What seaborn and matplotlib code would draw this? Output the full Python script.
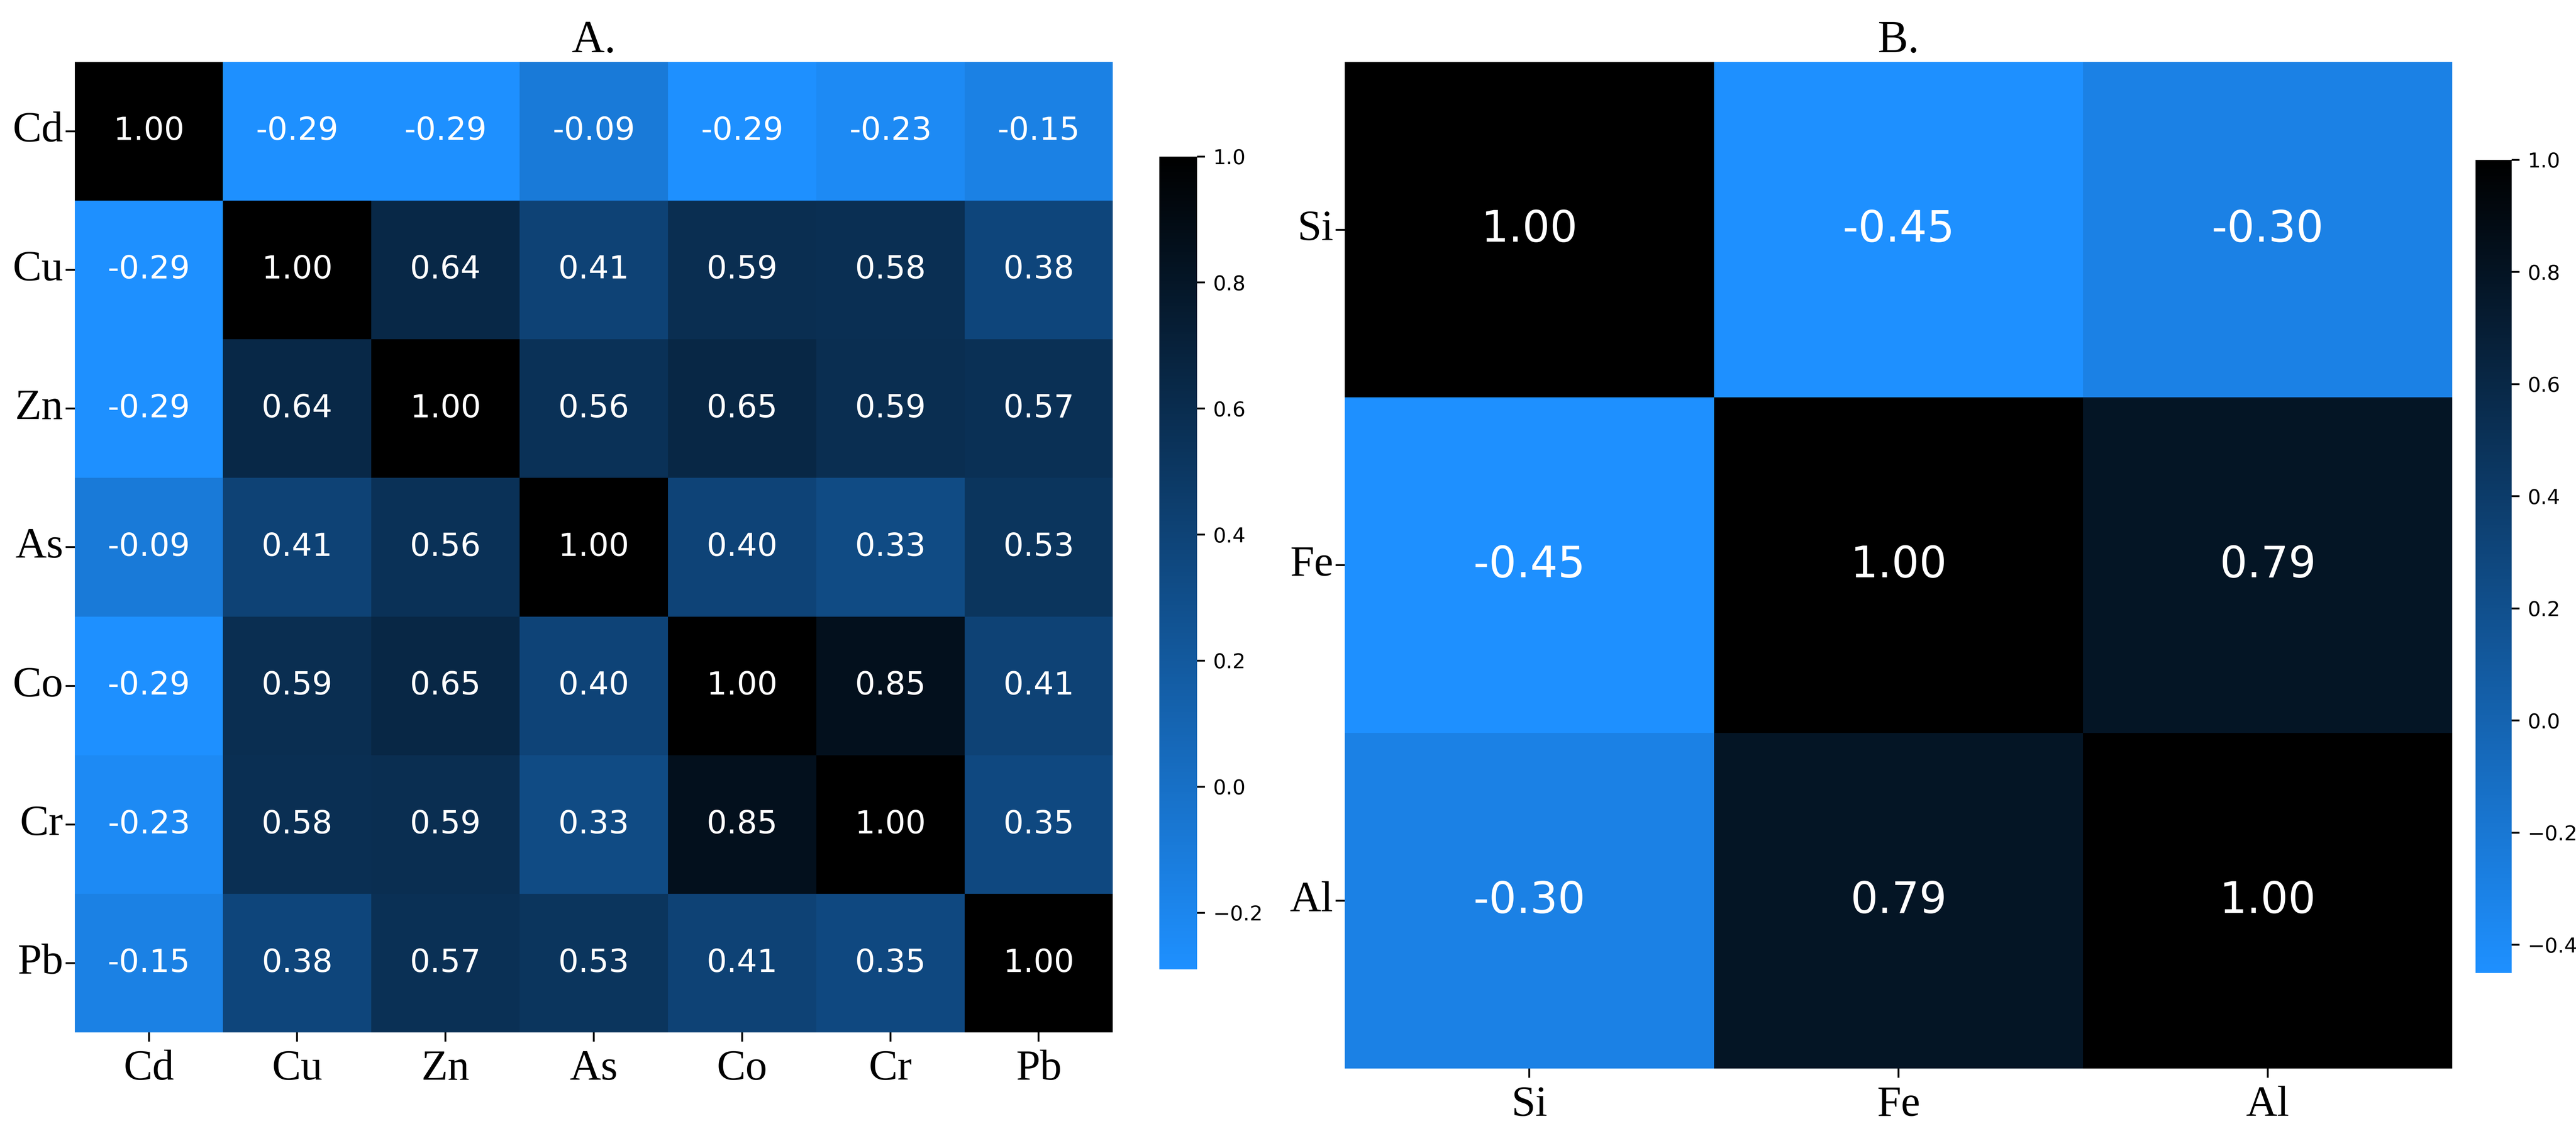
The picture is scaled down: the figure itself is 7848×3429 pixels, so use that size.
import numpy as np
import pandas as pd
import matplotlib
matplotlib.use("Agg")
import matplotlib.pyplot as plt
import seaborn as sns
from matplotlib.colors import LinearSegmentedColormap

labels_a = ["Cd", "Cu", "Zn", "As", "Co", "Cr", "Pb"]
corr_a = [
    [1.00, -0.29, -0.29, -0.09, -0.29, -0.23, -0.15],
    [-0.29, 1.00, 0.64, 0.41, 0.59, 0.58, 0.38],
    [-0.29, 0.64, 1.00, 0.56, 0.65, 0.59, 0.57],
    [-0.09, 0.41, 0.56, 1.00, 0.40, 0.33, 0.53],
    [-0.29, 0.59, 0.65, 0.40, 1.00, 0.85, 0.41],
    [-0.23, 0.58, 0.59, 0.33, 0.85, 1.00, 0.35],
    [-0.15, 0.38, 0.57, 0.53, 0.41, 0.35, 1.00],
]
labels_b = ["Si", "Fe", "Al"]
corr_b = [
    [1.00, -0.45, -0.30],
    [-0.45, 1.00, 0.79],
    [-0.30, 0.79, 1.00],
]

cmap = LinearSegmentedColormap.from_list("bk", ["#1E90FF", "#000000"])
fig = plt.figure(figsize=(15.696, 6.858), dpi=500)

ax1 = fig.add_axes([0.029, 0.083, 0.403, 0.862])
cax1 = fig.add_axes([0.450, 0.139, 0.0147, 0.722])
ax2 = fig.add_axes([0.522, 0.051, 0.430, 0.894])
cax2 = fig.add_axes([0.961, 0.136, 0.014, 0.722])

da = pd.DataFrame(corr_a, index=labels_a, columns=labels_a)
db = pd.DataFrame(corr_b, index=labels_b, columns=labels_b)

sns.heatmap(da, ax=ax1, cbar_ax=cax1, cmap=cmap, annot=True, fmt=".2f",
            annot_kws={"size": 14, "color": "white"})
sns.heatmap(db, ax=ax2, cbar_ax=cax2, cmap=cmap, annot=True, fmt=".2f",
            annot_kws={"size": 19, "color": "white"})

for ax, t in [(ax1, "A."), (ax2, "B.")]:
    ax.set_title(t, fontsize=20, family="Liberation Serif", pad=3)
    for lab in ax.get_xticklabels() + ax.get_yticklabels():
        lab.set_family("Liberation Serif")
        lab.set_fontsize(19)
    ax.tick_params(axis="y", rotation=0, length=4, pad=1)
    ax.tick_params(axis="x", rotation=0, length=4)
for c in (cax1, cax2):
    c.tick_params(labelsize=9)

fig.savefig("out.png", dpi=500)
